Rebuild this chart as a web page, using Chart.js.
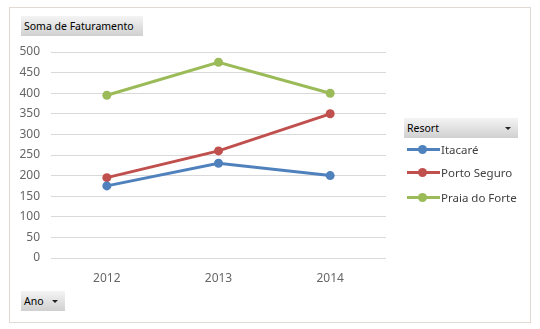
<!DOCTYPE html>
<html>
<head>
<meta charset="utf-8">
<script src="https://cdn.jsdelivr.net/npm/chart.js@4"></script>
<style>
body{margin:0;background:#fff;font-family:"Noto Sans",sans-serif;}
#wrap{position:relative;width:540px;height:329px;}
#frame{position:absolute;left:9px;top:7px;width:520px;height:314px;border:1px solid #e3d9d3;}
canvas{position:absolute;left:0;top:0;}
.btn{position:absolute;height:20px;line-height:20px;font-size:10.5px;color:#000;padding-left:3px;
 background:linear-gradient(#f4f4f4,#d0d0d0);box-sizing:border-box;}
.arr{position:absolute;right:7px;top:9px;width:0;height:0;border-left:3px solid transparent;border-right:3px solid transparent;border-top:3px solid #222;}
.leg{position:absolute;left:407px;font-size:11.5px;color:#404040;height:16px;line-height:16px;}
.leg .ln{position:absolute;left:0;top:6px;width:33px;height:3px;}
.leg .dot{position:absolute;left:11px;top:3px;width:9px;height:9px;border-radius:50%;}
.leg span{position:absolute;left:34px;white-space:nowrap;}
</style>
</head>
<body>
<div id="wrap">
<div id="frame"></div>
<canvas id="c" width="540" height="329"></canvas>
<div class="btn" style="left:21px;top:16px;width:122px;">Soma de Faturamento</div>
<div class="btn" style="left:21px;top:291px;width:44px;">Ano<div class="arr"></div></div>
<div class="btn" style="left:404px;top:118px;width:114px;">Resort<div class="arr"></div></div>
<div id="legend"></div>
</div>
<script>
const years = ['2012','2013','2014'];
const seriesNames = ['Itacaré','Porto Seguro','Praia do Forte'];
const itacare = [175, 230, 200];
const portoSeguro = [195, 260, 350];
const praiaDoForte = [395, 475, 400];
const colors = ['#4f81bd','#c0504d','#9bbb59'];

const values = [itacare, portoSeguro, praiaDoForte];
const legend = document.getElementById('legend');
const legTops = [142, 165, 190];
seriesNames.forEach((n,i)=>{
  const d = document.createElement('div');
  d.className='leg'; d.style.top=legTops[i]+'px';
  d.innerHTML='<div class="ln" style="background:'+colors[i]+'"></div><div class="dot" style="background:'+colors[i]+'"></div><span>'+n+'</span>';
  legend.appendChild(d);
});

const ctx = document.getElementById('c').getContext('2d');
new Chart(ctx, {
  type:'line',
  data:{labels:years, datasets:seriesNames.map((n,i)=>({
    label:n, data:values[i], borderColor:colors[i], backgroundColor:colors[i],
    borderWidth:3, pointRadius:4.5, pointBorderWidth:0, pointHoverRadius:4.5, tension:0
  }))},
  options:{
    responsive:false, animation:false,
    layout:{padding:{left:10,top:52,right:154,bottom:41}},
    plugins:{legend:{display:false}, tooltip:{enabled:false}},
    scales:{
      x:{offset:true, grid:{display:false}, border:{display:false},
        ticks:{color:'#666666', font:{family:'Noto Sans', size:12}, padding:5},
        afterFit:s=>{s.height=30;}},
      y:{min:0, max:500, grid:{color:'#d9d9d9', drawTicks:false}, border:{display:false},
        ticks:{stepSize:50, color:'#666666', font:{family:'Noto Sans', size:12}, padding:11},
        afterFit:s=>{s.width=41;}}
    }
  }
});
</script>
</body>
</html>
